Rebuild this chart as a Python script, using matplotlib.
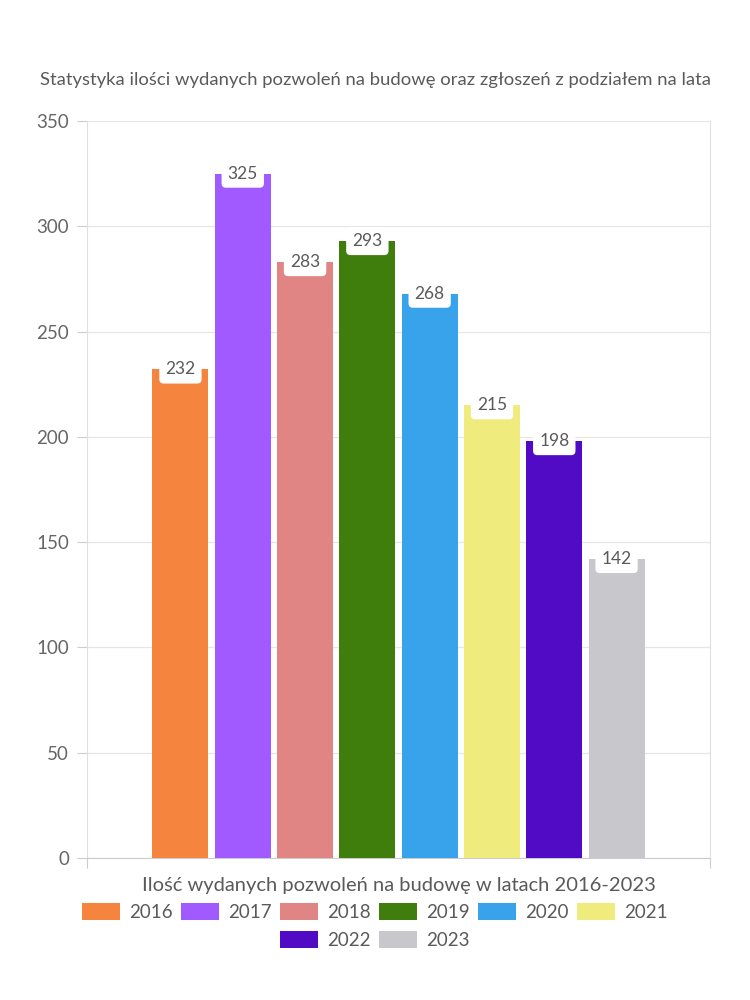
import matplotlib.pyplot as plt
import numpy as np
from matplotlib.patches import Patch

plt.rcParams['font.family'] = ['Lato', 'DejaVu Sans']

lata = ['2016', '2017', '2018', '2019', '2020', '2021', '2022', '2023']
pozwolenia = [232, 325, 283, 293, 268, 215, 198, 142]
kolory = ['#F5843F', '#A05AFF', '#E08484', '#3F7D0D', '#38A3EA', '#F0EB7D', '#520BC4', '#C8C8CC']

tytul = 'Statystyka ilości wydanych pozwoleń na budowę oraz zgłoszeń z podziałem na lata'
opis_x = 'Ilość wydanych pozwoleń na budowę w latach 2016-2023'

SZARY = '#666666'

fig = plt.figure(figsize=(7.5, 10), dpi=100)
ax = fig.add_axes([0.116, 0.142, 0.8307, 0.737])

n = len(lata)
krok = 0.1
szer = 0.09
x = (np.arange(n) - (n - 1) / 2) * krok

ax.bar(x, pozwolenia, width=szer, color=kolory, zorder=3)

for xi, v in zip(x, pozwolenia):
    ax.text(xi, v, str(v), ha='center', va='center', fontsize=12.5, color='#5a5a5a', zorder=4,
            bbox=dict(boxstyle='round,pad=0.35,rounding_size=0.25', fc='white', ec='none'))

ax.set_xlim(-0.5, 0.5)
ax.set_ylim(0, 350)
ax.set_yticks(np.arange(0, 351, 50))
ax.set_xticks([-0.5, 0.5])
ax.set_xticklabels(['', ''])
ax.tick_params(axis='y', colors='#cccccc', labelcolor=SZARY, labelsize=13.5, length=7, pad=6)
ax.tick_params(axis='x', colors='#cccccc', length=7)
ax.grid(axis='y', color='#e6e6e6', linewidth=0.9, zorder=0)
for s in ['left', 'right', 'top']:
    ax.spines[s].set_color('#e0e0e0')
ax.spines['top'].set_visible(False)
ax.spines['bottom'].set_color('#cccccc')

ax.set_xlabel(opis_x, fontsize=14.5, color='#5a5a5a', labelpad=3)
fig.text(0.5 * (40 + 710) / 750, 0.92, tytul, ha='center', va='center', fontsize=13.3, color='#5a5a5a')

uchwyty = [Patch(facecolor=c, edgecolor='none') for c in kolory]
kw = dict(frameon=False, fontsize=13.5, handlelength=2.0, handleheight=1.0,
          handletextpad=0.5, columnspacing=0.45, labelcolor='#5a5a5a', loc='center')
fig.legend(uchwyty[:6], lata[:6], ncol=6, bbox_to_anchor=(0.5, 0.088), **kw)
fig.legend(uchwyty[6:], lata[6:], ncol=2, bbox_to_anchor=(0.5, 0.060), **kw)

fig.savefig('out.png', dpi=100)
